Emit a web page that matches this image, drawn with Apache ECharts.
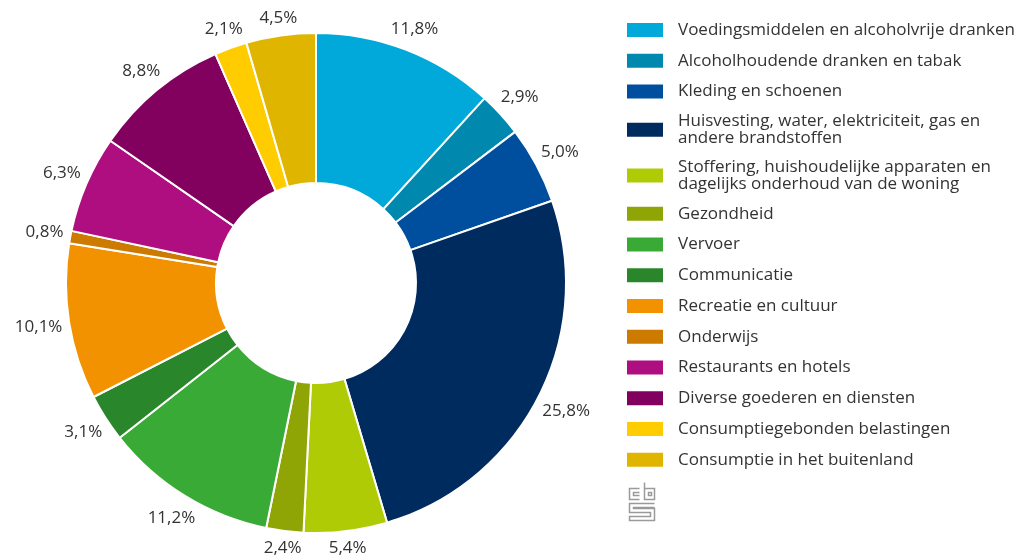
<!DOCTYPE html>
<html lang="nl">
<head>
    <meta charset="UTF-8">
    <title>Consumptieve bestedingen</title>
    <script src="https://cdn.jsdelivr.net/npm/echarts@6/dist/echarts.min.js"></script>
    <style>
        html, body, #chart {
            width: 100%;
            height: 100%;
            padding: 0;
            margin: 0;
            background: #fff;
        }
    </style>
</head>
<body>
<div id="chart"></div>
<script>
    var categories = [
        "Voedingsmiddelen en alcoholvrije dranken",
        "Alcoholhoudende dranken en tabak",
        "Kleding en schoenen",
        "Huisvesting, water, elektriciteit, gas en\nandere brandstoffen",
        "Stoffering, huishoudelijke apparaten en\ndagelijks onderhoud van de woning",
        "Gezondheid",
        "Vervoer",
        "Communicatie",
        "Recreatie en cultuur",
        "Onderwijs",
        "Restaurants en hotels",
        "Diverse goederen en diensten",
        "Consumptiegebonden belastingen",
        "Consumptie in het buitenland"
    ];
    var shares = [11.8, 2.9, 5.0, 25.8, 5.4, 2.4, 11.2, 3.1, 10.1, 0.8, 6.3, 8.8, 2.1, 4.5];
    var colors = [
        "#00a9d9", "#0088ae", "#004f9f", "#002b5e", "#afcb05", "#8fa506", "#39aa35",
        "#2a862a", "#f39200", "#cd7a00", "#af0e80", "#82005e", "#ffcc00", "#e0b500"
    ];

    var cx = 316, cy = 283, innerR = 100, outerR = 250;
    var labelGap = 6;

    var myChart = echarts.init(document.getElementById("chart"));

    var pieData = categories.map(function (name, i) {
        return {name: name, value: shares[i], itemStyle: {color: colors[i]}};
    });

    var logoGray = "#9a9a9a";
    function logoLine(points) {
        return {type: "polyline", shape: {points: points}, style: {stroke: logoGray, lineWidth: 1.5, fill: null}};
    }

    myChart.setOption({
        animation: false,
        textStyle: {
            fontFamily: "Open Sans"
        },
        legend: {
            orient: "vertical",
            left: 625,
            top: 20,
            padding: 0,
            itemWidth: 38,
            itemHeight: 16,
            itemGap: 10.75,
            icon: "rect",
            selectedMode: false,
            formatter: function (name) {
                var lines = name.split("\n");
                if (lines.length > 1) {
                    return lines.map(function (l) { return "{two|" + l + "}"; }).join("\n");
                }
                return "{one|" + name + "}";
            },
            textStyle: {
                fontSize: 17,
                lineHeight: 20,
                color: "#333",
                padding: [0, 0, 0, 9],
                rich: {
                    one: {fontSize: 17, lineHeight: 20, height: 20, color: "#333"},
                    two: {fontSize: 17, lineHeight: 17.5, height: 17.5, color: "#333"}
                }
            },
            data: categories
        },
        graphic: [{
            type: "group",
            left: 627,
            top: 480,
            children: [
                logoLine([[10, 6], [0, 6], [0, 17], [10, 17]]),
                logoLine([[10, 10], [4, 10], [4, 13], [10, 13]]),
                logoLine([[15, 0], [15, 17], [25, 17], [25, 6], [15, 6]]),
                {type: "rect", shape: {x: 19, y: 10, width: 3, height: 3}, style: {stroke: logoGray, lineWidth: 1.5, fill: null}},
                logoLine([[25, 21], [0, 21], [0, 30], [21, 30], [21, 34], [0, 34], [0, 38], [25, 38], [25, 26], [4, 26], [4, 25], [25, 25]])
            ]
        }],
        series: [{
            type: "pie",
            center: [cx, cy],
            radius: [innerR, outerR],
            startAngle: 90,
            clockwise: true,
            avoidLabelOverlap: false,
            silent: true,
            itemStyle: {
                borderColor: "#fff",
                borderWidth: 2
            },
            label: {
                show: true,
                position: "outside",
                fontSize: 17,
                color: "#333",
                formatter: function (p) {
                    return p.value.toFixed(1).replace(".", ",") + "%";
                }
            },
            labelLine: {
                show: true,
                length: 4,
                length2: 0,
                lineStyle: {opacity: 0}
            },
            // put each label just outside the ring, its box clearing the edge like in the original
            labelLayout: function (params) {
                var pts = params.labelLinePoints;
                if (!pts || !pts.length) {
                    return {};
                }
                var dx = pts[0][0] - cx, dy = pts[0][1] - cy;
                var len = Math.sqrt(dx * dx + dy * dy) || 1;
                var ux = dx / len, uy = dy / len;
                var w = params.labelRect.width, h = params.labelRect.height;
                var d = outerR + labelGap + Math.abs(ux) * w / 2 + Math.abs(uy) * h / 2;
                return {
                    x: cx + ux * d,
                    y: cy + uy * d,
                    align: "center",
                    verticalAlign: "middle"
                };
            },
            data: pieData
        }]
    });
</script>
</body>
</html>
